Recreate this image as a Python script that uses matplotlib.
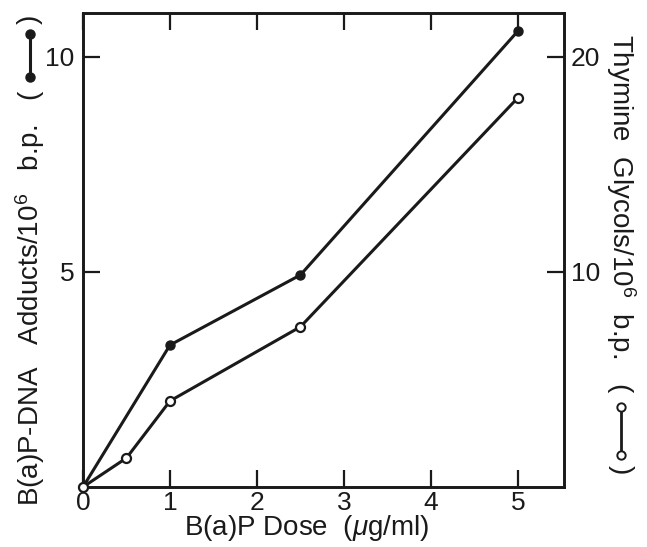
import matplotlib
matplotlib.use("Agg")
import matplotlib.pyplot as plt
from matplotlib.lines import Line2D

plt.rcParams['font.family'] = ['Liberation Sans', 'DejaVu Sans']
plt.rcParams['mathtext.fontset'] = 'custom'
plt.rcParams['mathtext.rm'] = 'Liberation Sans'
plt.rcParams['mathtext.it'] = 'Liberation Sans:italic'

# data
dose_adducts = [0, 1, 2.5, 5]
adducts = [0, 3.3, 4.93, 10.6]          # left axis, filled circles
dose_glycols = [0, 0.5, 1, 2.5, 5]
glycols = [0, 1.35, 4.0, 7.45, 18.1]    # right axis, open circles

x_ticks = [0, 1, 2, 3, 4, 5]
left_ticks = [5, 10]
right_ticks = [10, 20]

W, H = 647, 547
ink = '#1a1a1a'
fs = 20      # axis titles
tfs = 19     # tick labels

fig = plt.figure(figsize=(W / 100, H / 100), dpi=100)
ax = fig.add_axes([83 / W, 1 - 487 / H, (564 - 83) / W, (487 - 13) / H])
ax2 = ax.twinx()

ax.plot(dose_adducts, adducts, color=ink, lw=2.2, marker='o', ms=6.5,
        mfc=ink, mec=ink, clip_on=False, zorder=3)
ax2.plot(dose_glycols, glycols, color=ink, lw=2.2, marker='o', ms=6.5,
         mfc='white', mec=ink, mew=1.6, clip_on=False, zorder=4)

ax.set_xlim(0, 5.53)
ax.set_ylim(0, 11.02)
ax2.set_ylim(0, 22.04)

ax.set_xticks(x_ticks)
ax.set_yticks(left_ticks)
ax2.set_yticks(right_ticks)

for a in (ax, ax2):
    for s in a.spines.values():
        s.set_linewidth(1.9)
        s.set_color(ink)
ax.tick_params(axis='x', direction='in', length=12, width=1.6, top=True,
               labelsize=tfs, pad=3, colors=ink)
ax.tick_params(axis='y', direction='in', length=12, width=1.6,
               labelsize=tfs, pad=6, colors=ink)
ax2.tick_params(axis='y', direction='in', length=12, width=1.6,
                labelsize=tfs, pad=5, colors=ink)

ax.set_xlabel(r'B(a)P Dose  ($\mu$g/ml)', fontsize=fs, color=ink)
ax.xaxis.set_label_coords(0.466, -0.119, transform=ax.transAxes)
ax.xaxis.label.set_va('bottom')

# axis titles with the small marker keys drawn inline
t1 = fig.text(30 / W, 1 - 506 / H, 'B(a)P-DNA   Adducts/10$^6$   b.p.   (', rotation=90,
              rotation_mode='anchor', ha='left', va='center', fontsize=fs, color=ink)
t2 = fig.text(621 / W, 1 - 34 / H, 'Thymine  Glycols/10$^6$  b.p.   (', rotation=270,
              rotation_mode='anchor', ha='left', va='center', fontsize=fs, color=ink)

fig.canvas.draw()
r = fig.canvas.get_renderer()
b1 = t1.get_window_extent(r)
b2 = t2.get_window_extent(r)

# left key: filled circles joined by a line
y0 = b1.y1 + 13
y1 = y0 + 43
xk = 30
fig.add_artist(Line2D([xk / W, xk / W], [y0 / H, y1 / H], transform=fig.transFigure,
                      color=ink, lw=2.2, marker='o', ms=6.5, mfc=ink))
fig.text(xk / W, (y1 + 10) / H, ')', rotation=90, rotation_mode='anchor', ha='left',
         va='center', fontsize=fs, color=ink)

# right key: open circles joined by a line
y0r = b2.y0 - 14
y1r = y0r - 48
xr = 621
fig.add_artist(Line2D([xr / W, xr / W], [y0r / H, y1r / H], transform=fig.transFigure,
                      color=ink, lw=2.0, marker='o', ms=6, mfc='white', mew=1.4))
fig.text(xr / W, (y1r - 10) / H, ')', rotation=270, rotation_mode='anchor', ha='left',
         va='center', fontsize=fs, color=ink)

fig.savefig('out.png', dpi=100)
